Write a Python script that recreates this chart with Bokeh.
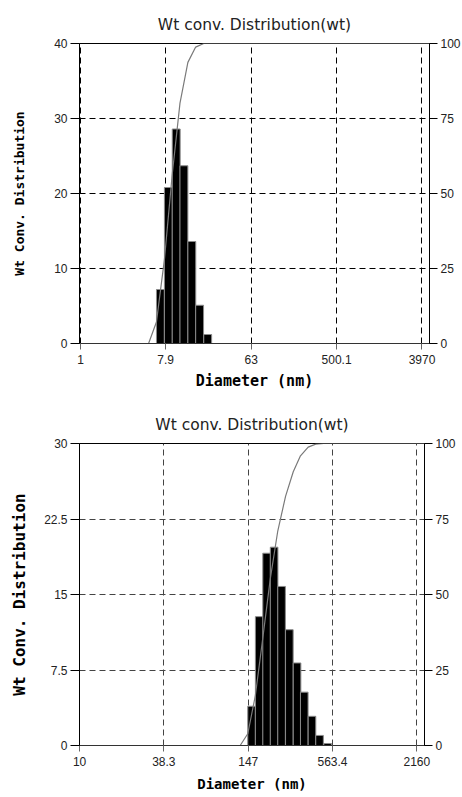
import numpy as np
from bokeh.plotting import figure
from bokeh.models import Range1d, LinearAxis, FixedTicker
from bokeh.layouts import column
from bokeh.embed import file_html
from bokeh.resources import INLINE

# ---------------- data ----------------
title_text = "Wt conv. Distribution(wt)"
x_label = "Diameter (nm)"
y_label = "Wt Conv. Distribution"

# chart 1 (top)
c1_diameter = [6.95, 8.43, 10.2, 12.3, 14.9, 18.0, 21.9]
c1_weight = [7.2, 20.8, 28.6, 23.7, 13.6, 5.1, 1.2]
c1_xticks = [1, 7.9, 63, 500.1, 3970]
c1_xtick_labels = ["1", "7.9", "63", "500.1", "3970"]
c1_yticks = [0, 10, 20, 30, 40]
c1_ytick_labels = ["0", "10", "20", "30", "40"]
c1_xrange = (0.976, 4764)
c1_yrange = (0, 40)

# chart 2 (bottom)
c2_diameter = [155, 175, 197, 222, 250, 283, 320, 359, 406, 458, 521]
c2_weight = [3.9, 12.8, 19.1, 19.7, 15.8, 11.5, 8.2, 5.3, 2.9, 1.0, 0.2]
c2_xticks = [10, 38.3, 147, 563.4, 2160]
c2_xtick_labels = ["10", "38.3", "147", "563.4", "2160"]
c2_yticks = [0, 7.5, 15, 22.5, 30]
c2_ytick_labels = ["0", "7.5", "15", "22.5", "30"]
c2_xrange = (9.98, 2440)
c2_yrange = (0, 30)

cum_ticks = [0, 25, 50, 75, 100]
cum_tick_labels = ["0", "25", "50", "75", "100"]

TICK_FONT = "Liberation Sans"
LABEL_FONT = "DejaVu Sans Mono"


def style_ticks(ax, tick_out):
    ax.major_label_text_font = TICK_FONT
    ax.major_label_text_font_size = "12px"
    ax.major_label_text_color = "#222222"
    ax.major_tick_in = 0
    ax.major_tick_out = tick_out
    ax.minor_tick_line_color = None


def make_chart(diam, wt, xticks, xlabels, yticks, ylabels, xr, yr,
               fw, fh, bl, br, bt, bb, ylab_size, xlab_size,
               ylab_standoff, xlab_standoff, grid_color):
    p = figure(frame_width=fw, frame_height=fh, x_axis_type="log",
               x_range=Range1d(*xr), y_range=Range1d(*yr),
               output_backend="svg", toolbar_location=None,
               min_border_left=bl, min_border_right=br,
               min_border_top=bt, min_border_bottom=bb)
    p.title.text = title_text
    p.title.align = "center"
    p.title.text_font = "DejaVu Sans"
    p.title.text_font_style = "normal"
    p.title.text_font_size = "15.5px"
    p.title.text_color = "#222222"
    p.title.standoff = 20
    p.outline_line_color = "black"
    p.outline_line_alpha = 1.0
    p.background_fill_color = "white"
    p.border_fill_color = "white"

    p.extra_y_ranges = {"cum": Range1d(0, 100)}

    # bars
    d = np.array(diam, dtype=float)
    w = np.array(wt, dtype=float)
    r = (d[-1] / d[0]) ** (1.0 / (len(d) - 1))
    left = d / np.sqrt(r)
    right = d * np.sqrt(r)
    p.quad(left=left, right=right, bottom=0, top=w,
           fill_color="black", line_color="#8a8a8a", line_width=1)

    # cumulative curve
    cum = np.cumsum(w) / w.sum() * 100.0
    cx = np.concatenate([[left[0] / r], left, [xr[1]]])
    cy = np.concatenate([[0.0], cum, [100.0]])
    p.line(cx, cy, y_range_name="cum", line_color="#7a7a7a", line_width=1.2)

    # x axis
    xa = p.xaxis[0]
    xa.ticker = FixedTicker(ticks=xticks, minor_ticks=[])
    xa.major_label_overrides = dict(zip(xticks, xlabels))
    xa.axis_label = x_label
    xa.axis_label_text_font = LABEL_FONT
    xa.axis_label_text_font_style = "bold"
    xa.axis_label_text_font_size = xlab_size
    xa.axis_label_text_color = "black"
    xa.axis_label_standoff = xlab_standoff
    style_ticks(xa, 6)
    xa.major_label_standoff = 5
    xa.major_tick_line_color = "#666666"
    xa.axis_line_color = "#333333"

    # left y axis
    ya = p.yaxis[0]
    ya.ticker = FixedTicker(ticks=yticks, minor_ticks=[])
    ya.major_label_overrides = dict(zip(yticks, ylabels))
    ya.axis_label = y_label
    ya.axis_label_text_font = LABEL_FONT
    ya.axis_label_text_font_style = "bold"
    ya.axis_label_text_font_size = ylab_size
    ya.axis_label_text_color = "black"
    ya.axis_label_standoff = ylab_standoff
    style_ticks(ya, 9)
    ya.major_label_standoff = 3
    ya.major_tick_line_color = "black"
    ya.axis_line_color = "black"

    # right y axis (cumulative %)
    ra = LinearAxis(y_range_name="cum",
                    ticker=FixedTicker(ticks=cum_ticks, minor_ticks=[]))
    ra.major_label_overrides = dict(zip(cum_ticks, cum_tick_labels))
    style_ticks(ra, 8)
    ra.major_label_standoff = 3
    ra.major_tick_line_color = "black"
    ra.axis_line_color = "black"
    p.add_layout(ra, "right")

    for g in (p.xgrid[0], p.ygrid[0]):
        g.grid_line_color = grid_color
        g.grid_line_dash = "6 4"
        g.grid_line_width = 1
    return p


p1 = make_chart(c1_diameter, c1_weight, c1_xticks, c1_xtick_labels,
                c1_yticks, c1_ytick_labels, c1_xrange, c1_yrange,
                fw=350, fh=300, bl=79, br=33, bt=43, bb=57,
                ylab_size="13px", xlab_size="15px", ylab_standoff=24,
                xlab_standoff=5, grid_color="black")
p2 = make_chart(c2_diameter, c2_weight, c2_xticks, c2_xtick_labels,
                c2_yticks, c2_ytick_labels, c2_xrange, c2_yrange,
                fw=345, fh=302, bl=79, br=38, bt=43, bb=52,
                ylab_size="16px", xlab_size="14px", ylab_standoff=12,
                xlab_standoff=7, grid_color="#444444")

layout = column(p1, p2, spacing=0)
open("out.html", "w").write(file_html(layout, INLINE))
